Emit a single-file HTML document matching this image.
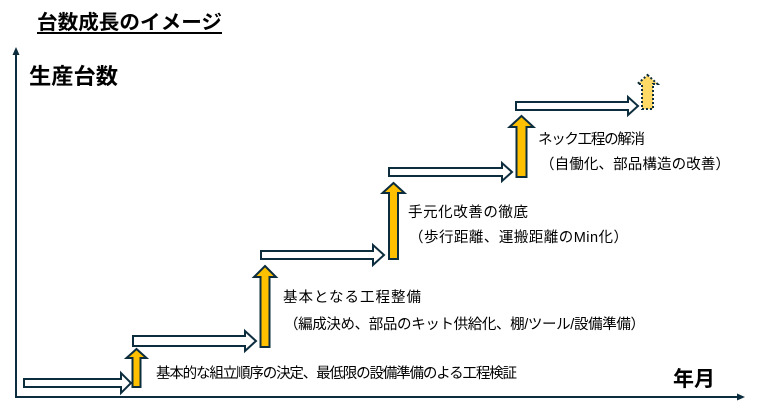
<!DOCTYPE html>
<html><head><meta charset="utf-8">
<style>
html,body{margin:0;padding:0;background:#fff;}
svg{display:block;}
text{font-family:"Liberation Sans","Noto Sans CJK JP",sans-serif;fill:#000;}
.b{font-weight:bold;}
.t{font-size:14.5px;}
</style></head>
<body>
<svg width="757" height="412" viewBox="0 0 757 412" xmlns="http://www.w3.org/2000/svg">
<rect width="757" height="412" fill="#fff"/>
<!-- axes -->
<line x1="16" y1="397" x2="16" y2="54" stroke="#0C2D3E" stroke-width="2"/>
<polygon points="16,47 12.5,55 19.5,55" fill="#0C2D3E"/>
<line x1="15" y1="397" x2="738" y2="397" stroke="#0C2D3E" stroke-width="2"/>
<polygon points="745,397 737,393.5 737,400.5" fill="#0C2D3E"/>

<!-- title -->
<text class="b" x="37" y="29" font-size="20" textLength="185" lengthAdjust="spacingAndGlyphs">台数成長のイメージ</text>
<rect x="37" y="32" width="185" height="2" fill="#000"/>
<text class="b" x="29" y="84" font-size="22" textLength="89" lengthAdjust="spacingAndGlyphs">生産台数</text>
<text class="b" x="673" y="386" font-size="21" textLength="42" lengthAdjust="spacingAndGlyphs">年月</text>

<g stroke="#0C2D3E" stroke-width="2" stroke-linejoin="miter">
<!-- horizontal white arrows -->
<polygon fill="#fff" points="24,379 121,379 121,373 131,383 121,393 121,387 24,387"/>
<polygon fill="#fff" points="133,336 245,336 245,331 256,341 245,351 245,346 133,346"/>
<polygon fill="#fff" points="261,251 373,251 373,245 384,255 373,265 373,259 261,259"/>
<polygon fill="#fff" points="389,168 502,168 502,163 512,172 502,181 502,176 389,176"/>
<polygon fill="#fff" points="516,102 628,102 628,97 638,106 628,115 628,110 516,110"/>
<!-- vertical yellow arrows -->
<polygon fill="#FFC000" points="136.5,349 146.5,358 140.5,358 140.5,387 132.5,387 132.5,358 126.5,358"/>
<polygon fill="#FFC000" points="265,266 276,277 269.5,277 269.5,347 260.5,347 260.5,277 254,277"/>
<polygon fill="#FFC000" points="393.5,183 404.5,193 398,193 398,259 389,259 389,193 382.5,193"/>
<polygon fill="#FFC000" points="521.5,116 533.5,127 526.5,127 526.5,177 516.5,177 516.5,127 509.5,127"/>
</g>
<!-- dotted future arrow -->
<polygon fill="#FFD966" stroke="#0C2D3E" stroke-width="2" stroke-dasharray="2,2" points="647.5,75 657.5,84 653,84 653,109 642,109 642,84 637.5,84"/>

<!-- labels -->
<text class="t" x="156" y="378" textLength="361" lengthAdjust="spacing">基本的な組立順序の決定、最低限の設備準備のよる工程検証</text>
<text class="t" x="283" y="302" textLength="138" lengthAdjust="spacing">基本となる工程整備</text>
<text class="t" x="284" y="329" textLength="361" lengthAdjust="spacing">（編成決め、部品のキット供給化、棚/ツール/設備準備）</text>
<text class="t" x="408" y="217" textLength="120" lengthAdjust="spacing">手元化改善の徹底</text>
<text class="t" x="409" y="242" textLength="219" lengthAdjust="spacing">（歩行距離、運搬距離のMin化）</text>
<text class="t" x="538" y="144" textLength="107" lengthAdjust="spacing">ネック工程の解消</text>
<text class="t" x="540" y="169" textLength="190" lengthAdjust="spacing">（自働化、部品構造の改善）</text>
</svg>
</body></html>
